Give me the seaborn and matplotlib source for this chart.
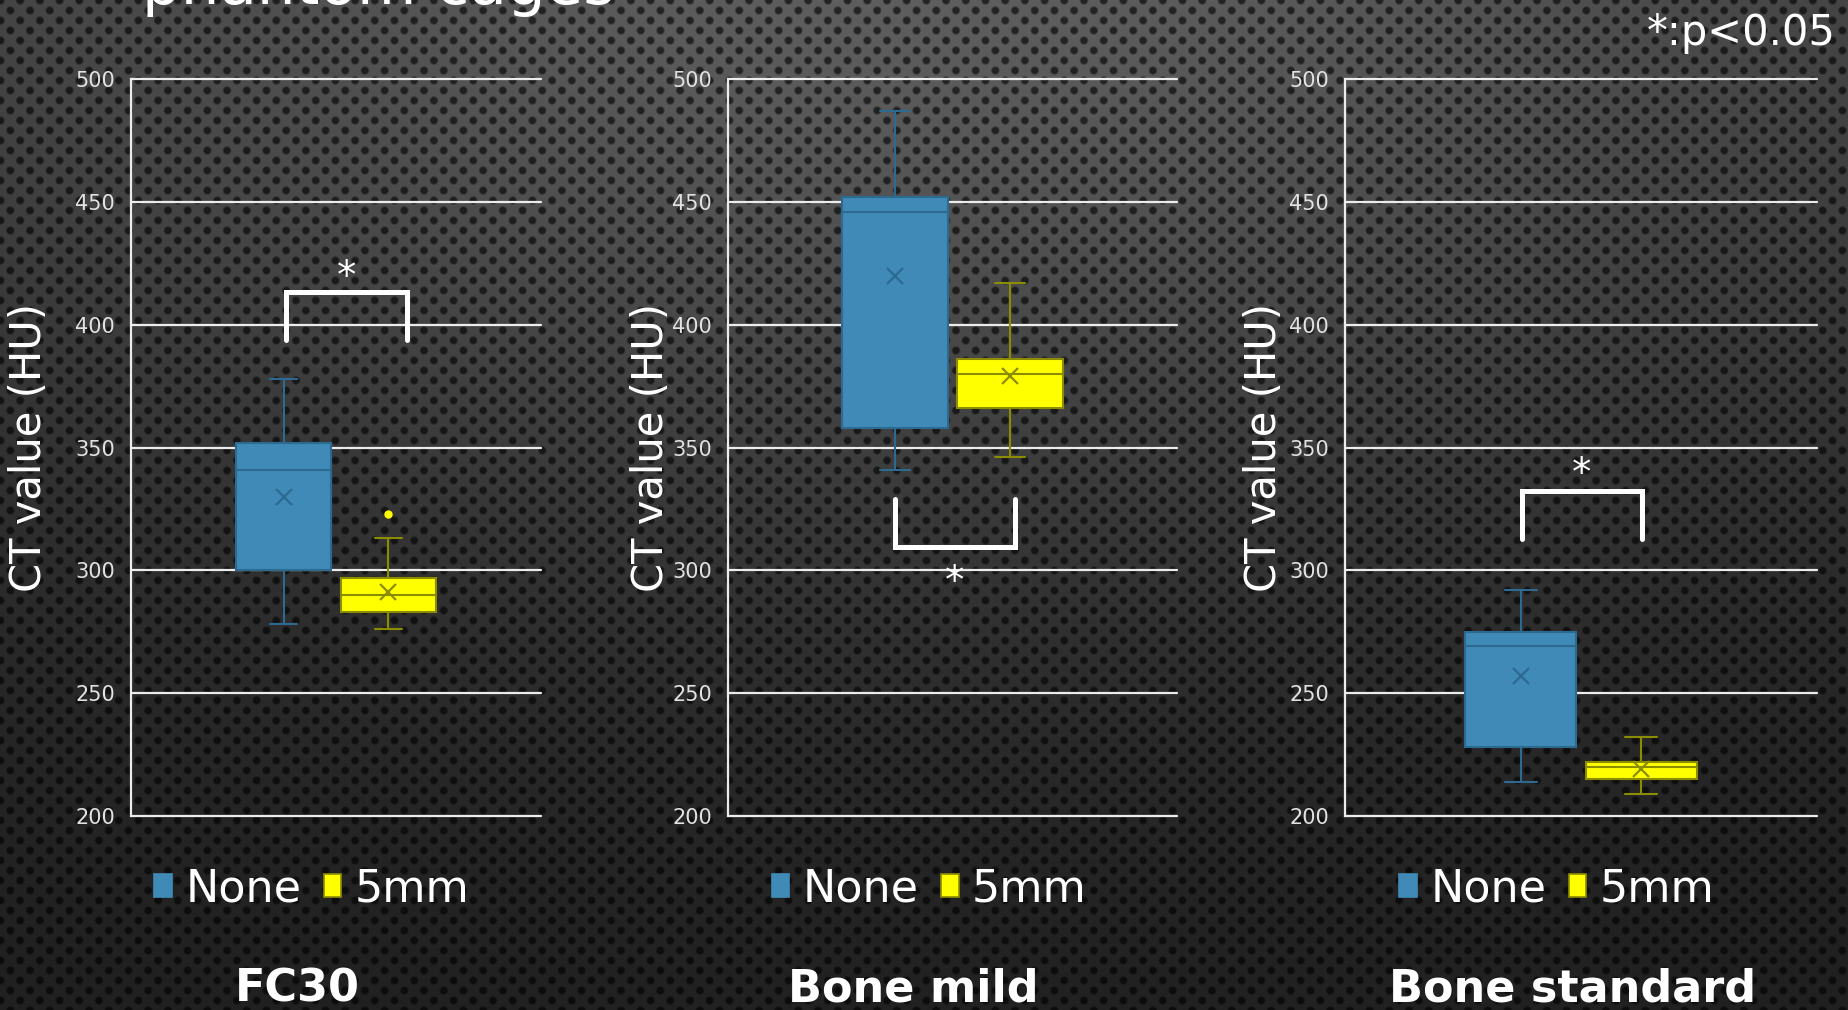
import numpy as np
import pandas as pd
import matplotlib
matplotlib.use("Agg")
import matplotlib.pyplot as plt
from matplotlib.patches import Patch
import seaborn as sns

# ---- data: five-number summaries (lower whisker, Q1, median, Q3, upper whisker) in HU
panels = ["FC30", "Bone mild", "Bone standard"]
filters = ["None", "5mm"]

fc30_none = [278, 300, 341, 352, 378]
fc30_5mm = [276, 283, 290, 297, 313]
mild_none = [341, 358, 446, 452, 487]
mild_5mm = [346, 366, 380, 386, 417]
std_none = [214, 228, 269, 275, 292]
std_5mm = [209, 215, 220, 222, 232]

# means per panel: [None, 5mm]
fc30_mean = [330, 291]
mild_mean = [420, 379]
std_mean = [257, 219]

# outliers (panel, filter, value)
outlier_panel = ["FC30"]
outlier_filter = ["5mm"]
outlier_value = [323]

yticks = [200, 250, 300, 350, 400, 450, 500]

# ---- tidy frames
summaries = {
    ("FC30", "None"): fc30_none, ("FC30", "5mm"): fc30_5mm,
    ("Bone mild", "None"): mild_none, ("Bone mild", "5mm"): mild_5mm,
    ("Bone standard", "None"): std_none, ("Bone standard", "5mm"): std_5mm,
}
box_df = pd.concat(
    [pd.DataFrame({"panel": p, "filter": f, "HU": v}) for (p, f), v in summaries.items()],
    ignore_index=True,
)
means = {"FC30": fc30_mean, "Bone mild": mild_mean, "Bone standard": std_mean}
mean_df = pd.DataFrame(
    [(p, f, m) for p, vals in means.items() for f, m in zip(filters, vals)],
    columns=["panel", "filter", "HU"],
)
out_df = pd.DataFrame({"panel": outlier_panel, "filter": outlier_filter, "HU": outlier_value})

# ---- styling
fill_colors = {"None": "#3f8ab6", "5mm": "#ffff00"}
edge_colors = {"None": "#2c6a91", "5mm": "#8c8c00"}
grid_color = "#ececec"

sns.set_theme(style="white")
plt.rcParams["font.family"] = ["DejaVu Sans"]

W, H = 1848, 1010
fig = plt.figure(figsize=(W / 100, H / 100), dpi=100)

# perforated-metal backdrop
yy, xx = np.mgrid[0:H, 0:W].astype(float)
base = 30 + 64 * np.exp(-((xx - 924) / 1300) ** 2 - ((yy + 60) / 620) ** 2)
px, py = 19.7, 10.0
dA = np.hypot((xx % px) - px / 2, (yy % (2 * py)) - py)
dB = np.hypot(((xx + px / 2) % px) - px / 2, ((yy + py) % (2 * py)) - py)
dot = np.clip((4.8 - np.minimum(dA, dB)) / 2.0, 0, 1)
shade = np.clip(base * (1 - 0.62 * dot) / 255.0, 0, 1)
bg = fig.add_axes([0, 0, 1, 1], zorder=-10)
bg.imshow(np.dstack([shade] * 3), aspect="auto", extent=(0, 1, 0, 1), interpolation="bilinear")
bg.set_axis_off()

# panel geometry (pixels)
ax_left = [131, 728, 1345]
ax_width = [410, 449, 472]
ax_top, ax_bottom = 79, 816
ylabel_x = [-0.198, -0.125, -0.127]
legend_x = [0.441, 0.448, 0.449]
title_x = [0.405, 0.412, 0.483]

brackets = {
    "FC30": dict(x=(-0.122, 0.173), bar=413.4, leg=393.8, star=422),
    "Bone mild": dict(x=(-0.128, 0.139), bar=309.5, leg=329.0, star=298),
    "Bone standard": dict(x=(-0.125, 0.129), bar=332.4, leg=312.8, star=341.7),
}

for i, panel in enumerate(panels):
    rect = [ax_left[i] / W, 1 - ax_bottom / H, ax_width[i] / W, (ax_bottom - ax_top) / H]
    ax = fig.add_axes(rect)
    ax.set_facecolor("none")

    pdata = box_df[box_df["panel"] == panel]
    for filt in filters:
        sns.boxplot(
            data=pdata[pdata["filter"] == filt], x="panel", y="HU", hue="filter",
            hue_order=filters, palette=fill_colors, saturation=1, dodge=True,
            width=0.512, gap=0.086, whis=(0, 100), linecolor=edge_colors[filt],
            linewidth=1.5, fliersize=0, capwidths=0.068, legend=False, ax=ax,
        )

    sns.pointplot(
        data=mean_df[mean_df["panel"] == panel], x="panel", y="HU", hue="filter",
        hue_order=filters, palette=edge_colors, dodge=0.256, markers="x",
        linestyles="none", errorbar=None, markersize=12, markeredgewidth=1.6,
        legend=False, ax=ax, zorder=5,
    )
    odata = out_df[out_df["panel"] == panel]
    if len(odata):
        sns.pointplot(
            data=odata, x="panel", y="HU", hue="filter", hue_order=filters,
            palette=fill_colors, dodge=0.256, markers="o", linestyles="none",
            errorbar=None, markersize=6, markeredgewidth=0, legend=False, ax=ax, zorder=5,
        )

    # significance bracket
    b = brackets[panel]
    x0, x1 = b["x"]
    ax.plot([x0, x0, x1, x1], [b["leg"], b["bar"], b["bar"], b["leg"]], color="white",
            lw=3.6, solid_capstyle="round", solid_joinstyle="miter", zorder=6)
    ax.annotate("*", ((x0 + x1) / 2, b["star"]), xytext=(0, -12.5), textcoords="offset points",
                ha="center", va="baseline", fontsize=28, color="white")

    ax.set_xlim(-0.5, 0.5)
    ax.set_ylim(200, 500)
    ax.set_yticks(yticks)
    ax.set_xticks([])
    ax.set_xlabel("")
    ax.set_ylabel("CT value (HU)", fontsize=30, color="white")
    ax.yaxis.set_label_coords(ylabel_x[i], 0.5)
    ax.tick_params(axis="y", length=0, pad=11.5, labelsize=15, labelcolor="#e2e2e2")
    ax.yaxis.grid(True, color=grid_color, lw=1.6)
    ax.xaxis.grid(False)
    ax.set_axisbelow(True)
    for gl in ax.get_ygridlines():
        gl.set_clip_on(False)
    for side in ["top", "right", "bottom"]:
        ax.spines[side].set_visible(False)
    ax.spines["left"].set_color(grid_color)
    ax.spines["left"].set_linewidth(1.6)

    handles = [Patch(facecolor=fill_colors[f], edgecolor=edge_colors[f] if f == "5mm" else fill_colors[f],
                     lw=1.2) for f in filters]
    ax.legend(handles, filters, loc="center", bbox_to_anchor=(legend_x[i], -0.099), ncol=2,
              frameon=False, fontsize=32, handlelength=0.4, handleheight=0.4,
              handletextpad=0.3, columnspacing=0.5, labelcolor="white", borderaxespad=0)

    ax.text(title_x[i], -0.252, panel, transform=ax.transAxes, ha="center", va="baseline",
            fontsize=32, fontweight="bold", color="white")

fig.text(0.077, 0.996, "phantom cages", fontsize=44, color="white", ha="left", va="baseline")
fig.text(0.9935, 0.9554, "*:p<0.05", fontsize=30, color="white", ha="right", va="baseline")

fig.savefig("out.png", dpi=100)
